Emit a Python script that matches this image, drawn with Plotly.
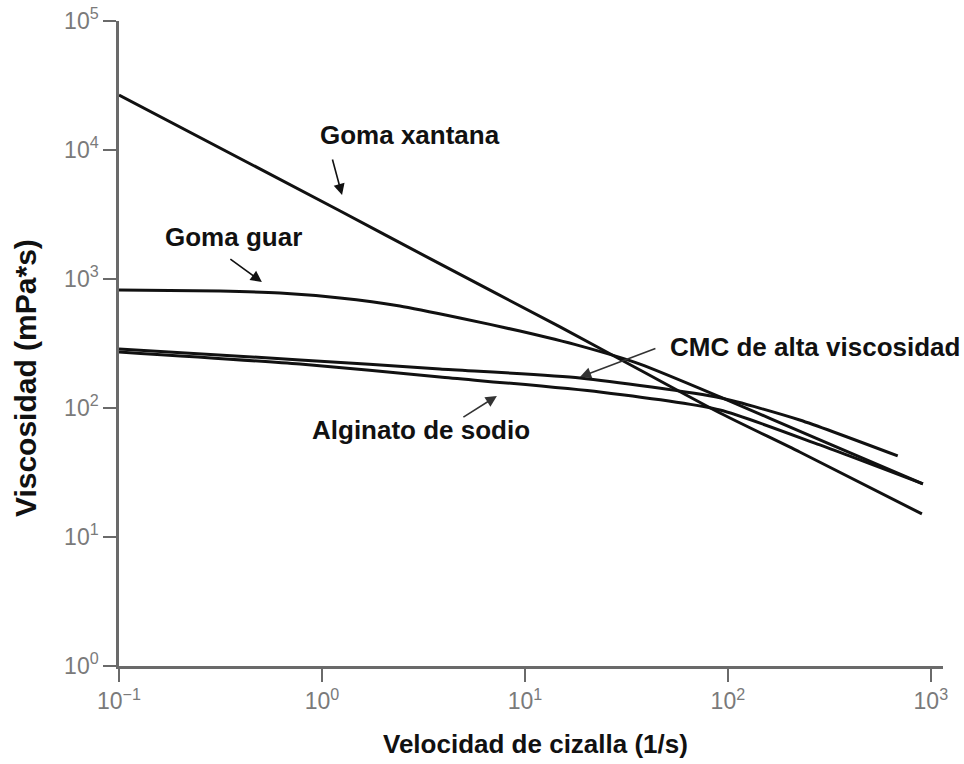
import plotly.graph_objects as go

# Data (shear rate in 1/s, viscosity in mPa*s)
xantana_x = [0.1, 1.23, 3.52, 14.9, 36.9, 91.4, 226, 904]
xantana_y = [26700, 3365, 1400, 425, 197, 91.5, 45.6, 15.1]

guar_x = [0.1, 0.315, 0.621, 1.227, 2.42, 4.78, 9.45, 18.7, 36.9, 91.4, 284, 914]
guar_y = [822, 807, 779, 713, 618, 499, 395, 303, 219, 122, 56.5, 25.8]

cmc_x = [0.1, 0.78, 3.81, 18.7, 91.4, 226, 687]
cmc_y = [287, 236, 201, 171, 120, 80.7, 42.5]

alginato_x = [0.1, 0.78, 3.81, 23.4, 91.4, 284, 914]
alginato_y = [272, 219, 174, 133, 96.5, 51.7, 25.8]

tick_x_vals = [0.1, 1, 10, 100, 1000]
tick_x_text = ["10<sup>−1</sup>", "10<sup>0</sup>", "10<sup>1</sup>", "10<sup>2</sup>", "10<sup>3</sup>"]
tick_y_vals = [1, 10, 100, 1000, 10000, 100000]
tick_y_text = ["10<sup>0</sup>", "10<sup>1</sup>", "10<sup>2</sup>", "10<sup>3</sup>", "10<sup>4</sup>", "10<sup>5</sup>"]

FONT = "Arial, Liberation Sans, sans-serif"
LINE = dict(color="#111111", width=3, shape="spline", smoothing=0.6)

fig = go.Figure()
for xs, ys, name in [(xantana_x, xantana_y, "Goma xantana"),
                     (guar_x, guar_y, "Goma guar"),
                     (cmc_x, cmc_y, "CMC de alta viscosidad"),
                     (alginato_x, alginato_y, "Alginato de sodio")]:
    fig.add_trace(go.Scatter(x=xs, y=ys, mode="lines", line=LINE, name=name,
                             showlegend=False, hoverinfo="skip"))

axis_common = dict(showgrid=False, zeroline=False, showline=True, linecolor="#6a6a6a",
                   linewidth=2.5, ticks="outside", ticklen=13, tickwidth=2, tickcolor="#6a6a6a",
                   automargin=False, ticklabeloverflow="allow",
                   tickfont=dict(family=FONT, size=23, color="#7a7a7a"))

fig.update_xaxes(type="log", range=[-1, 3.06], tickvals=tick_x_vals, ticktext=tick_x_text, **axis_common)
fig.update_yaxes(type="log", range=[0, 5], tickvals=tick_y_vals, ticktext=tick_y_text, **axis_common)

lab_font = dict(family=FONT, size=26, color="#111111", weight="bold")

annotations = [
    # text labels
    dict(x=0.433, y=4.116, text="Goma xantana", showarrow=False, font=lab_font, xanchor="center", yanchor="middle"),
    dict(x=-0.438, y=3.326, text="Goma guar", showarrow=False, font=lab_font, xanchor="center", yanchor="middle"),
    dict(xref="paper", yref="paper", x=1.023, y=0.4946, text="CMC de alta viscosidad", showarrow=False,
         font=lab_font, xanchor="right", yanchor="middle"),
    dict(x=-0.059, y=1.829, text="Alginato de sodio", showarrow=False, font=lab_font, xanchor="left", yanchor="middle"),
    # arrows
    dict(x=0.099, y=3.651, ax=-10, ay=-37, text="", showarrow=True, arrowhead=2, arrowsize=1.4, arrowwidth=1.6, arrowcolor="#111111"),
    dict(x=-0.296, y=2.977, ax=-33, ay=-24, text="", showarrow=True, arrowhead=2, arrowsize=1.4, arrowwidth=1.6, arrowcolor="#111111"),
    dict(x=1.271, y=2.240, ax=77, ay=-29, text="", showarrow=True, arrowhead=2, arrowsize=1.4, arrowwidth=1.6, arrowcolor="#333333"),
    dict(x=0.862, y=2.093, ax=-35, ay=22, text="", showarrow=True, arrowhead=2, arrowsize=1.4, arrowwidth=1.6, arrowcolor="#333333"),
    # axis titles
    dict(xref="paper", yref="paper", x=0.506, y=-0.121, text="Velocidad de cizalla (1/s)", showarrow=False,
         font=dict(family=FONT, size=26, color="#111111", weight="bold"), xanchor="center", yanchor="middle"),
    dict(xref="paper", yref="paper", x=-0.1140, y=0.4465, text="Viscosidad (mPa*s)", showarrow=False, textangle=-90,
         font=dict(family=FONT, size=30, color="#111111", weight="bold"), xanchor="center", yanchor="middle"),
]
fig.update_layout(annotations=annotations)

fig.update_layout(width=964, height=764, margin=dict(l=119, r=21, t=21, b=98, autoexpand=False),
                  plot_bgcolor="white", paper_bgcolor="white", showlegend=False)

# remove the default 8px page margin so the figure fills the window exactly
fig.write_html("out.html", config={"displayModeBar": False},
               post_script="document.body.style.margin='0';")
